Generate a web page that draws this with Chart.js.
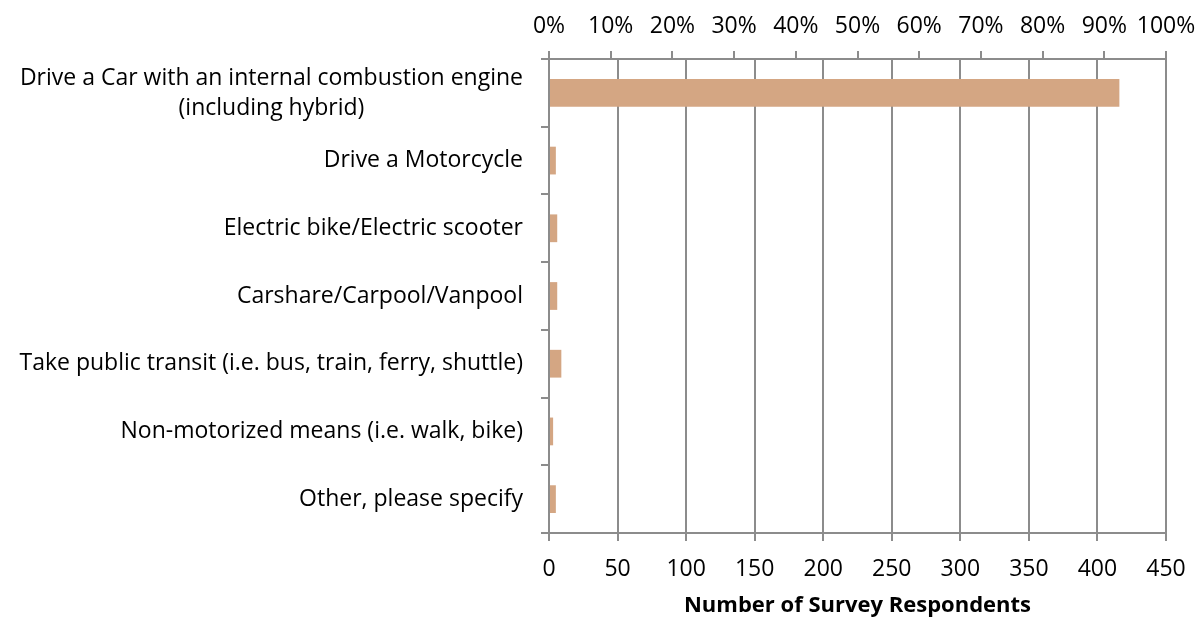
<!DOCTYPE html>
<html>
<head>
<meta charset="utf-8">
<script src="https://cdn.jsdelivr.net/npm/chart.js@4.4.1/dist/chart.umd.min.js"></script>
<style>
	html, body { margin: 0; padding: 0; background: #fff; }
	#wrap { width: 1195px; height: 619px; }
</style>
</head>
<body>
<div id="wrap"><canvas id="modeChart"></canvas></div>
<script>
// commute mode survey results
let modes = [
	["Drive a Car with an internal combustion engine", "(including hybrid)"],
	"Drive a Motorcycle",
	"Electric bike/Electric scooter",
	"Carshare/Carpool/Vanpool",
	"Take public transit (i.e. bus, train, ferry, shuttle)",
	"Non-motorized means (i.e. walk, bike)",
	"Other, please specify"
];
let respondents = [416, 5, 6, 6, 9, 3, 5];
let countTicks = [0, 50, 100, 150, 200, 250, 300, 350, 400, 450];
let percentTicks = [0, 10, 20, 30, 40, 50, 60, 70, 80, 90, 100];

let fontFamily = "'Open Sans', sans-serif";
let fontSize = 23;
let gridColor = "#8c8c8c";
let barColor = "#d4a683";

// category labels drawn by hand so the two-line one stays centred
let modeLabels = {
	id: "modeLabels",
	afterDraw: function (chart) {
		let ctx = chart.ctx;
		let yScale = chart.scales.y;
		let right = chart.chartArea.left - 26;
		let lineGap = 30;
		ctx.save();
		ctx.font = fontSize + "px " + fontFamily;
		ctx.fillStyle = "#000";
		ctx.textBaseline = "middle";
		modes.forEach(function (m, i) {
			let lines = Array.isArray(m) ? m : [m];
			let cy = yScale.getPixelForValue(i);
			let w = Math.max.apply(null, lines.map(function (l) { return ctx.measureText(l).width; }));
			let x = right;
			ctx.textAlign = "right";
			if (lines.length > 1) {
				ctx.textAlign = "center";
				x = right - w / 2;
				cy += 1;
			}
			lines.forEach(function (l, j) {
				ctx.fillText(l, x, cy + (j - (lines.length - 1) / 2) * lineGap);
			});
		});
		ctx.restore();
	}
};

function noSidePadding(s) {
	s.paddingLeft = 0;
	s.paddingRight = 0;
}

let chart = new Chart(document.getElementById("modeChart"), {
	type: "bar",
	data: {
		labels: modes.map(function (m) { return Array.isArray(m) ? m.join(" ") : m; }),
		datasets: [{
			data: respondents,
			backgroundColor: barColor,
			borderWidth: 0,
			categoryPercentage: 1,
			barPercentage: 0.41,
			xAxisID: "x"
		}]
	},
	plugins: [modeLabels],
	options: {
		indexAxis: "y",
		responsive: true,
		maintainAspectRatio: false,
		animation: false,
		layout: { padding: { right: 29, left: 0, top: 0, bottom: 0 } },
		plugins: {
			legend: { display: false },
			tooltip: { enabled: false }
		},
		scales: {
			x: {
				type: "linear",
				position: "bottom",
				min: 0,
				max: 450,
				afterBuildTicks: function (s) { s.ticks = countTicks.map(function (v) { return { value: v }; }); },
				afterFit: function (s) { s.height = 86; noSidePadding(s); },
				grid: { color: gridColor, lineWidth: 2, tickLength: 8 },
				border: { color: gridColor, width: 2 },
				ticks: { color: "#000", padding: 15, maxRotation: 0, font: { family: fontFamily, size: fontSize } },
				title: {
					display: true,
					text: "Number of Survey Respondents",
					color: "#000",
					padding: { top: 2, bottom: 0 },
					font: { family: fontFamily, size: 22, weight: "bold" }
				}
			},
			x2: {
				type: "linear",
				axis: "x",
				position: "top",
				min: 0,
				max: 100,
				afterBuildTicks: function (s) { s.ticks = percentTicks.map(function (v) { return { value: v }; }); },
				afterFit: function (s) { s.height = 59; noSidePadding(s); },
				grid: { drawOnChartArea: false, color: gridColor, lineWidth: 2, tickLength: 8 },
				border: { color: gridColor, width: 2 },
				ticks: {
					color: "#000",
					padding: 11,
					maxRotation: 0,
					font: { family: fontFamily, size: fontSize },
					callback: function (v) { return v + "%"; }
				}
			},
			y: {
				type: "category",
				afterFit: function (s) { s.width = 549; },
				grid: { offset: true, drawOnChartArea: false, color: gridColor, lineWidth: 2, tickLength: 8 },
				border: { color: gridColor, width: 2 },
				ticks: { display: false }
			}
		}
	}
});
</script>
</body>
</html>
